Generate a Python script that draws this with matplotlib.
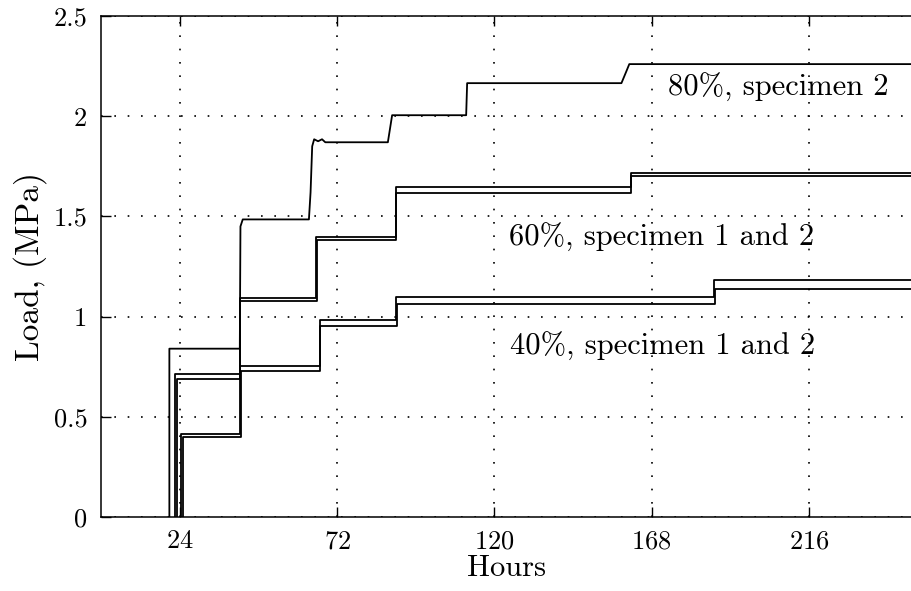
import matplotlib
matplotlib.use('Agg')
import matplotlib.pyplot as plt
import numpy as np

plt.rcParams['font.family'] = 'cmr10'
plt.rcParams['axes.formatter.use_mathtext'] = True
plt.rcParams['mathtext.fontset'] = 'cm'

X_END = 247.5

# 80%, specimen 2 (load history, hours / MPa)
h80 = [20.8, 20.8, 42.3, 42.5, 43.2, 63.4, 63.9, 64.4, 65.0, 66.2, 67.4, 68.4,
       87.5, 88.8, 111.4, 111.7, 158.8, 160.2, 161.2, X_END]
l80 = [0, 0.84, 0.84, 1.45, 1.485, 1.485, 1.62, 1.85, 1.885, 1.875, 1.885, 1.87,
       1.87, 2.005, 2.005, 2.165, 2.165, 2.22, 2.26, 2.26]

# 60%, specimen 1 and 2 : hour of each load step, level after the step
h60a = [22.4, 42.3, 65.7, 89.9, 161.6]
l60a = [0.715, 1.095, 1.395, 1.645, 1.715]
h60b = [23.0, 42.5, 65.9, 90.1, 161.8]
l60b = [0.69, 1.08, 1.38, 1.615, 1.70]

# 40%, specimen 1 and 2
h40a = [24.4, 42.5, 66.7, 90.1, 187.0]
l40a = [0.415, 0.755, 0.985, 1.10, 1.185]
h40b = [24.9, 42.7, 66.9, 90.3, 187.3]
l40b = [0.40, 0.73, 0.955, 1.065, 1.14]

labels = ['80%, specimen 2', '60%, specimen 1 and 2', '40%, specimen 1 and 2']
label_pos = [(173.0, 2.10), (124.4, 1.352), (124.8, 0.81)]

xticks = [24, 72, 120, 168, 216]
yticks = [0, 0.5, 1, 1.5, 2, 2.5]
ytick_labels = ['0', '0.5', '1', '1.5', '2', '2.5']


def stairs(hours, loads):
    # start on the axis, then hold each level until the next step
    x = [hours[0]] + list(hours) + [X_END]
    y = [0] + list(loads) + [loads[-1]]
    return x, y


fig = plt.figure(figsize=(9.12, 5.91), dpi=100)
ax = fig.add_axes([0.111, 0.1252, 0.889, 0.8477])

lw = 1.3
ax.plot(h80, l80, color='black', lw=lw)
for h, l in [(h60a, l60a), (h60b, l60b), (h40a, l40a), (h40b, l40b)]:
    x, y = stairs(h, l)
    ax.plot(x, y, color='black', lw=lw, drawstyle='steps-post')

for txt, (tx, ty) in zip(labels, label_pos):
    ax.text(tx, ty, txt, fontsize=22, va='baseline', ha='left')

ax.set_xlim(0, X_END)
ax.set_ylim(0, 2.5)
ax.set_xticks(xticks)
ax.set_yticks(yticks)
ax.set_yticklabels(ytick_labels)
ax.grid(True, color='black', lw=1.2, linestyle=(0, (1, 7)))
ax.tick_params(direction='in', length=7, width=1, labelsize=19, top=True, right=False)
ax.tick_params(axis='x', pad=9)
ax.tick_params(axis='y', pad=10)
ax.spines['right'].set_visible(False)
for s in ['left', 'top', 'bottom']:
    ax.spines[s].set_linewidth(1.1)

ax.set_xlabel('Hours', fontsize=22, labelpad=1)
ax.set_ylabel('Load, (MPa)', fontsize=24, labelpad=5)

fig.savefig('out.png', dpi=100)
